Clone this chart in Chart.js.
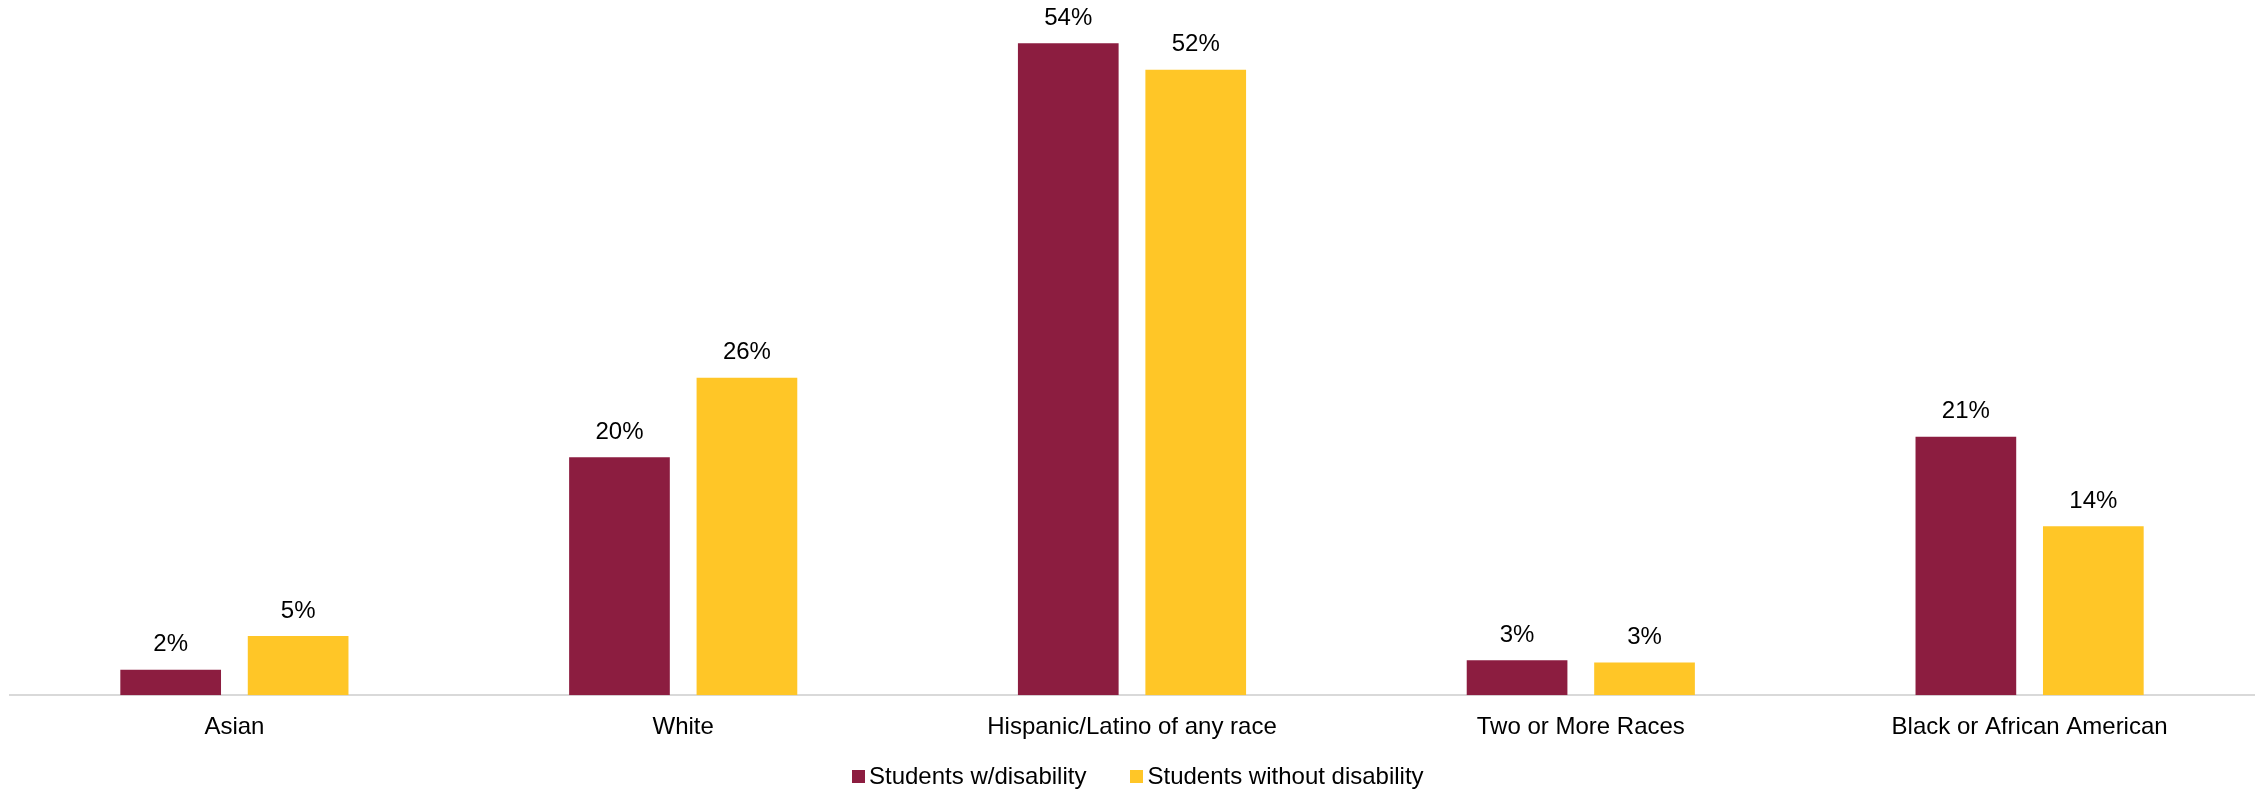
<!DOCTYPE html>
<html>
<head>
  <title>Students by Race/Ethnicity</title>
  <script src="https://cdn.jsdelivr.net/npm/chart.js"></script>
  <style>
    body {
        margin: 0;
        background: #ffffff;
        font-family: 'Liberation Sans', Arial, sans-serif;
    }
    .wrap {
        position: relative;
        width: 2260px;
        height: 790px;
    }
    /* Legend sits under the x axis labels */
    .legend {
        position: absolute;
        left: 852px;
        top: 762px;
        display: flex;
        align-items: center;
        font-size: 24px;
        line-height: 28px;
        color: #000000;
    }
    .legend .item {
        display: flex;
        align-items: center;
        margin-right: 44px;
    }
    .legend .swatch {
        width: 13px;
        height: 13px;
        margin-right: 4px;
    }
  </style>
</head>
<body>
<div class="wrap">
  <canvas id="raceChart" width="2260" height="790"></canvas>
  <div class="legend" id="legend"></div>
</div>

<script>
  const categories = ['Asian', 'White', 'Hispanic/Latino of any race', 'Two or More Races', 'Black or African American'];
  const withDisability = [2.1, 19.7, 54.0, 2.9, 21.4];
  const withoutDisability = [4.9, 26.3, 51.8, 2.7, 14.0];
  const seriesNames = ['Students w/disability', 'Students without disability'];
  const seriesColors = ['#8C1D40', '#FFC627'];

  const FONT = "'Liberation Sans', Arial, sans-serif";

  // percentage labels above each bar
  const barLabels = {
      id: 'barLabels',
      afterDatasetsDraw(chart) {
          const ctx = chart.ctx;
          ctx.save();
          ctx.font = '24px ' + FONT;
          ctx.fillStyle = '#000000';
          ctx.textAlign = 'center';
          ctx.textBaseline = 'middle';
          chart.data.datasets.forEach((ds, i) => {
              chart.getDatasetMeta(i).data.forEach((bar, j) => {
                  ctx.fillText(Math.round(ds.data[j]) + '%', bar.x, bar.y - 25);
              });
          });
          ctx.restore();
      }
  };

  new Chart(document.getElementById('raceChart'), {
      type: 'bar',
      data: {
          labels: categories,
          datasets: [
              { label: seriesNames[0], data: withDisability, backgroundColor: seriesColors[0] },
              { label: seriesNames[1], data: withoutDisability, backgroundColor: seriesColors[1] }
          ]
      },
      options: {
          responsive: false,
          animation: false,
          categoryPercentage: 0.568,
          barPercentage: 0.79,
          layout: {
              padding: { top: 19, left: 10, right: 6, bottom: 30 }
          },
          plugins: {
              legend: { display: false },
              tooltip: { enabled: false }
          },
          scales: {
              x: {
                  grid: { display: false, drawTicks: false },
                  border: { display: true, color: '#d9d9d9', width: 2 },
                  ticks: {
                      padding: 18,
                      color: '#000000',
                      font: { family: FONT, size: 24 },
                      maxRotation: 0,
                      autoSkip: false
                  }
              },
              y: {
                  display: false,
                  min: 0,
                  max: 56
              }
          }
      },
      plugins: [barLabels]
  });

  // legend built from the series names and colours
  const legendEl = document.getElementById('legend');
  seriesNames.forEach((name, i) => {
      const item = document.createElement('div');
      item.className = 'item';
      const sw = document.createElement('span');
      sw.className = 'swatch';
      sw.style.background = seriesColors[i];
      item.appendChild(sw);
      item.appendChild(document.createTextNode(name));
      legendEl.appendChild(item);
  });
</script>
</body>
</html>
